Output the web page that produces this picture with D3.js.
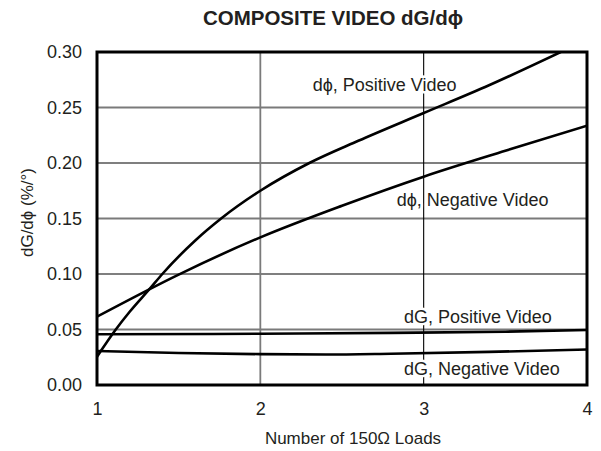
<!DOCTYPE html>
<html><head><meta charset="utf-8">
<script src="https://cdn.jsdelivr.net/npm/d3@7"></script>
<style>
body{margin:0;background:#fff;}
text{font-family:"Liberation Sans",Arial,Helvetica,sans-serif;fill:#231f20;}
</style></head>
<body><svg id="c" width="601" height="451"></svg>
<script>
const xTicks = [1, 2, 3, 4];
const yTicks = [0, 0.05, 0.10, 0.15, 0.20, 0.25, 0.30];
const dphiPosX = [1, 1.115, 1.2, 1.325, 1.4, 1.6, 1.76, 2, 2.3, 2.6, 3, 3.4, 3.84];
const dphiPosY = [0.0255, 0.050, 0.066, 0.087, 0.100, 0.130, 0.150, 0.175, 0.200, 0.220, 0.245, 0.270, 0.300];
const dphiNegX = [1, 1.5, 2, 2.5, 3, 3.5, 4];
const dphiNegY = [0.0616, 0.0995, 0.133, 0.1615, 0.1877, 0.211, 0.2336];
const dgPosX = [1, 2, 2.8, 3.5, 4];
const dgPosY = [0.0457, 0.0462, 0.047, 0.048, 0.0495];
const dgNegX = [1, 1.5, 2, 2.4, 2.8, 3.4, 4];
const dgNegY = [0.0306, 0.0288, 0.0278, 0.0275, 0.0282, 0.0298, 0.032];
const labelTexts = ["d\u03d5, Positive Video", "d\u03d5, Negative Video", "dG, Positive Video", "dG, Negative Video"];
const labelAt = [[2.321, 0.2649], [2.835, 0.1613], [2.88, 0.0561], [2.88, 0.009]];

const svg = d3.select("#c");
const L = 97, R = 587, T = 52, B = 385;
const x = d3.scaleLinear().domain([1, 4]).range([L, R]);
const y = d3.scaleLinear().domain([0, 0.30]).range([B, T]);

// gridlines (alternating gray / black as in the original)
svg.append("g").selectAll("line").data(yTicks.slice(1, -1)).join("line")
  .attr("x1", L).attr("x2", R).attr("y1", d => y(d)).attr("y2", d => y(d))
  .attr("stroke", (d, i) => i % 2 === 0 ? "#7a7a7a" : "#000")
  .attr("stroke-width", (d, i) => i % 2 === 0 ? 1.8 : 1.1);
svg.append("g").selectAll("line").data(xTicks.slice(1, -1)).join("line")
  .attr("y1", T).attr("y2", B).attr("x1", d => x(d)).attr("x2", d => x(d))
  .attr("stroke", (d, i) => i % 2 === 0 ? "#7a7a7a" : "#000")
  .attr("stroke-width", (d, i) => i % 2 === 0 ? 1.8 : 1.1);

const line = d3.line().x(d => x(d[0])).y(d => y(d[1])).curve(d3.curveMonotoneX);
const series = [[dphiPosX, dphiPosY], [dphiNegX, dphiNegY], [dgPosX, dgPosY], [dgNegX, dgNegY]];
svg.append("defs").append("clipPath").attr("id", "clip").append("rect")
  .attr("x", L).attr("y", T).attr("width", R - L).attr("height", B - T);

// labels (white halo knocks out gridlines behind the text)
svg.append("g").selectAll("text").data(labelTexts).join("text")
  .attr("x", (d, i) => x(labelAt[i][0])).attr("y", (d, i) => y(labelAt[i][1]))
  .attr("font-size", 18).attr("stroke", "#fff").attr("stroke-width", 5)
  .attr("paint-order", "stroke").attr("stroke-linejoin", "round")
  .text(d => d);

svg.append("g").attr("clip-path", "url(#clip)").selectAll("path").data(series).join("path")
  .attr("d", s => line(s[0].map((v, i) => [v, s[1][i]])))
  .attr("fill", "none").attr("stroke", "#000").attr("stroke-width", 2.6);

// frame
svg.append("rect").attr("x", L).attr("y", T).attr("width", R - L).attr("height", B - T)
  .attr("fill", "none").attr("stroke", "#000").attr("stroke-width", 3);

// axes
const xAxis = svg.append("g").attr("transform", `translate(0,${B})`)
  .call(d3.axisBottom(x).tickValues(xTicks).tickFormat(d3.format("d")).tickSize(0).tickPadding(17));
xAxis.select(".domain").remove();
xAxis.selectAll("text").attr("font-size", 18).attr("font-family", "Liberation Sans, Arial, sans-serif").attr("fill", "#231f20");
const yAxis = svg.append("g").attr("transform", `translate(${L},0)`)
  .call(d3.axisLeft(y).tickValues(yTicks).tickFormat(d3.format(".2f")).tickSize(0).tickPadding(15));
yAxis.select(".domain").remove();
yAxis.selectAll("text").attr("font-size", 18).attr("font-family", "Liberation Sans, Arial, sans-serif").attr("fill", "#231f20");

svg.append("text").attr("x", 333).attr("y", 25).attr("text-anchor", "middle")
  .attr("font-size", 20.5).attr("font-weight", "bold").text("COMPOSITE VIDEO dG/d\u03d5");
svg.append("text").attr("x", 353).attr("y", 444).attr("text-anchor", "middle")
  .attr("font-size", 17).text("Number of 150\u03a9 Loads");
svg.append("text").attr("transform", `translate(33,212.5) rotate(-90)`).attr("text-anchor", "middle")
  .attr("font-size", 17).text("dG/d\u03d5 (%/\u00b0)");
</script></body></html>
